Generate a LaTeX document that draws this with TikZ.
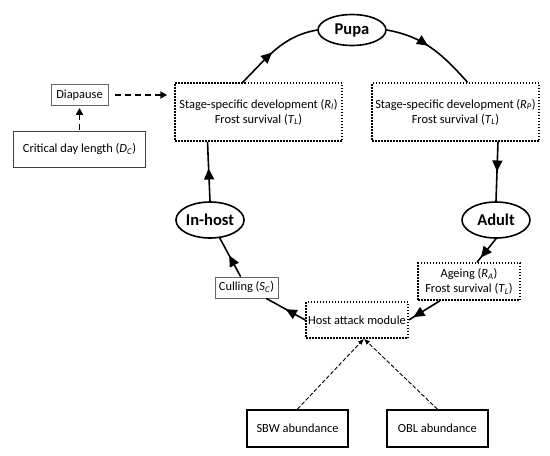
\documentclass[tikz,border=0pt]{standalone}
\usepackage{fontspec}
\setmainfont{Carlito}
\usetikzlibrary{arrows.meta, positioning, shapes.geometric, decorations.markings}
\newcommand{\vsub}[2]{\textit{#1}\textsubscript{\textit{#2}}}

\begin{document}
\begin{tikzpicture}[
    x=1pt, y=-1pt,
    every node/.style={font=\fontsize{12.4}{15}\selectfont},
    stage/.style={draw, ellipse, line width=1.6pt, inner sep=0pt, minimum width=68pt, minimum height=36pt, font=\fontsize{16.5}{18}\selectfont\bfseries},
    module/.style={draw, line width=1.5pt, dash pattern=on 1.5pt off 1.5pt, align=center, inner sep=0pt},
    factor/.style={draw=black!60, line width=0.8pt, align=center, inner sep=0pt},
    source/.style={draw, line width=1.8pt, inner sep=0pt, minimum width=101pt, minimum height=37pt},
    flow/.style={line width=1.6pt},
    midarrow/.style={postaction={decorate}, decoration={markings, mark=at position #1 with {\arrow{Triangle[length=11pt, width=10pt]}}}},
    cue/.style={line width=1.8pt, dash pattern=on 6pt off 4pt, -{Triangle[length=7pt, width=7pt]}},
    input/.style={line width=0.9pt, dash pattern=on 4pt off 2pt, -{Latex[length=6pt, width=5pt]}}
  ]
    \useasboundingbox (0,0) rectangle (550,456);

    % life stages
    \node[stage, minimum height=31pt] (pupa) at (352,30) {Pupa};
    \node[stage] (inhost) at (210,220) {In-host};
    \node[stage] (adult) at (496,220) {Adult};

    % modules
    \node[module, minimum width=167pt, minimum height=58pt] (devI) at (258.5,112) {Stage-specific development (\vsub{R}{I})\\Frost survival (\vsub{T}{L})};
    \node[module, minimum width=167pt, minimum height=58pt] (devP) at (455.5,112) {Stage-specific development (\vsub{R}{P})\\Frost survival (\vsub{T}{L})};
    \node[module, minimum width=102pt, minimum height=37pt] (ageing) at (469,281.5) {Ageing (\vsub{R}{A})\\Frost survival (\vsub{T}{L})};
    \node[module, minimum width=102pt, minimum height=36pt] (hostatk) at (357,320) {Host attack module};
    \node[factor, minimum width=63pt, minimum height=21pt] (culling) at (246.5,287.5) {Culling (\vsub{S}{C})};

    % diapause
    \node[factor, minimum width=57pt, minimum height=21pt] (diapause) at (79.5,95) {Diapause};
    \node[factor, draw=black!75, minimum width=132pt, minimum height=36pt, below=25pt of diapause] (critical) {Critical day length (\vsub{D}{C})};

    % abundances
    \node[source] (sbw) at (297.5,428.5) {SBW abundance};
    \node[source, right=37pt of sbw] (obl) {OBL abundance};
    \coordinate (meet) at ([xshift=7pt]hostatk.south);

    % life cycle
    \draw[flow, midarrow=0.45] (devI.118) to[out=45, in=190] (pupa.west);
    \draw[flow, midarrow=0.45] (pupa.east) to[out=-10, in=132] (devP.68);
    \draw[flow, midarrow=0.5] ([xshift=42.5pt]devP.south) -- (adult.north);
    \draw[flow, midarrow=0.8] (adult.south) -- ([xshift=8pt]ageing.north);
    \draw[flow, midarrow=0.85] ([xshift=-29pt]ageing.south) -- (hostatk.east);
    \draw[flow, midarrow=0.5] (hostatk.west) -- (culling);
    \draw[flow, midarrow=0.55] (culling) -- (inhost);
    \draw[flow, midarrow=0.55] (inhost.north) -- ([xshift=-51pt]devI.south);

    \draw[cue, shorten <=7pt, shorten >=7pt] (diapause.east) -- (diapause.east -| devI.west);
    \draw[cue, shorten <=1pt, shorten >=2pt] (critical.north) -- (diapause.south);

    \draw[input] (sbw.north) -- (meet);
    \draw[input] (obl.north) -- (meet);
  \end{tikzpicture}
\end{document}
